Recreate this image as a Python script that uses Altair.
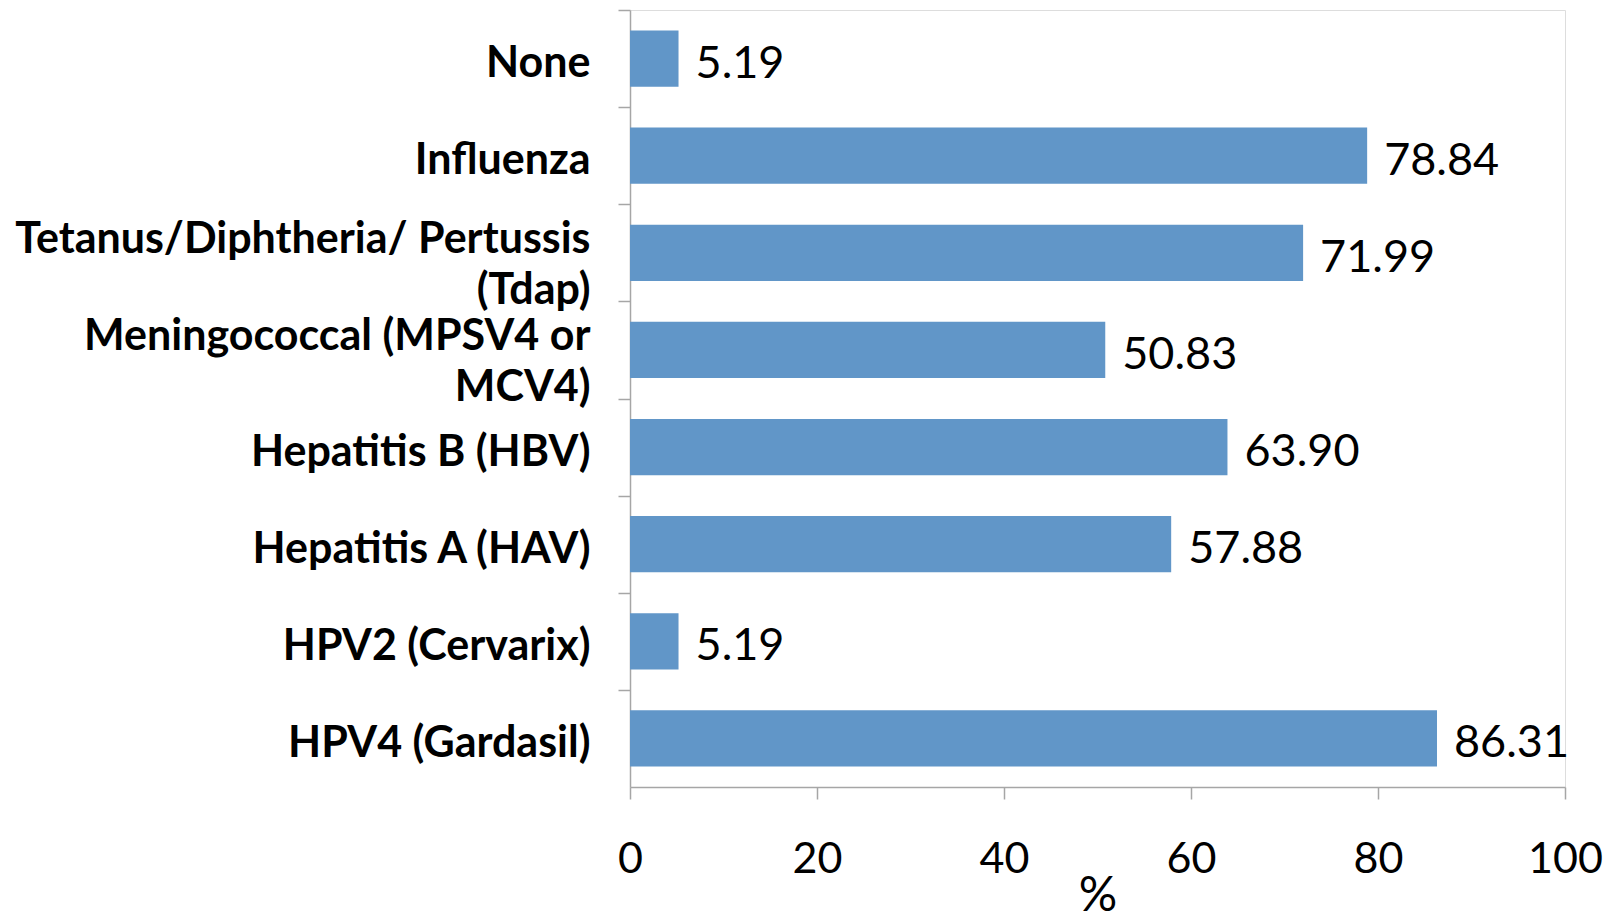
import altair as alt
import pandas as pd

categories = [
    "None",
    "Influenza",
    "Tetanus/Diphtheria/ Pertussis (Tdap)",
    "Meningococcal (MPSV4 or MCV4)",
    "Hepatitis B (HBV)",
    "Hepatitis A (HAV)",
    "HPV2 (Cervarix)",
    "HPV4 (Gardasil)",
]
values = [5.19, 78.84, 71.99, 50.83, 63.90, 57.88, 5.19, 86.31]
x_ticks = [0, 20, 40, 60, 80, 100]

df = pd.DataFrame({"cat": categories, "val": values})

label_expr = (
    "datum.value == 'Tetanus/Diphtheria/ Pertussis (Tdap)' ? "
    "['Tetanus/Diphtheria/ Pertussis', '(Tdap)'] : "
    "datum.value == 'Meningococcal (MPSV4 or MCV4)' ? "
    "['Meningococcal (MPSV4 or', 'MCV4)'] : datum.value"
)

LABEL_FONT = "Lato, 'Open Sans', sans-serif"
VALUE_FONT = "Lato, 'Open Sans', sans-serif"

PLOT_H = 777
HALF_STEP = PLOT_H / 8 / 2

y_enc = alt.Y(
    "cat:N",
    sort=categories,
    scale=alt.Scale(paddingInner=0.42, paddingOuter=0.21),
    axis=alt.Axis(
        title=None,
        labelExpr=label_expr,
        labelFont=LABEL_FONT,
        labelFontWeight="bold",
        labelFontSize=43,
        labelColor="#000000",
        labelLineHeight=51,
        labelPadding=28,
        labelLimit=700,
        tickOffset=-HALF_STEP,
        labelOffset={
            "condition": {"test": "length(datum.value) > 20", "value": HALF_STEP - 13},
            "value": HALF_STEP + 5,
        },
        tickSize=12,
        tickColor="#A6A6A6",
        domainColor="#A6A6A6",
        tickWidth=1.5,
        domainWidth=1.5,
        grid=False,
    ),
)

x_enc = alt.X(
    "val:Q",
    scale=alt.Scale(domain=[0, 100], nice=False),
    axis=alt.Axis(
        title="%",
        values=x_ticks,
        labelFont=VALUE_FONT,
        labelFontSize=43,
        labelColor="#000000",
        labelPadding=39,
        labelFlush=False,
        labelOverlap=False,
        titleFont=VALUE_FONT,
        titleFontSize=48,
        titleFontWeight="normal",
        titleColor="#000000",
        titlePadding=-9,
        tickSize=12,
        tickColor="#A6A6A6",
        domainColor="#A6A6A6",
        tickWidth=1.5,
        domainWidth=1.5,
        grid=False,
    ),
)

base = alt.Chart(df)

bars = base.mark_bar(color="#6196C8").encode(x=x_enc, y=y_enc)

texts = base.mark_text(
    align="left",
    baseline="middle",
    dx=17,
    dy=5,
    font=VALUE_FONT,
    fontSize=45,
    color="#000000",
).encode(
    x="val:Q",
    y=alt.Y("cat:N", sort=categories),
    text=alt.Text("val:Q", format=".2f"),
)

chart = (
    alt.layer(bars, texts)
    .properties(
        width=935,
        height=PLOT_H,
        autosize=alt.AutoSizeParams(type="none"),
        padding={"left": 622, "top": 2, "right": 40, "bottom": 150},
    )
    .configure_view(stroke=None)
    .configure(background="white")
)

chart.save("out.html", embed_options={"renderer": "svg", "actions": False})
